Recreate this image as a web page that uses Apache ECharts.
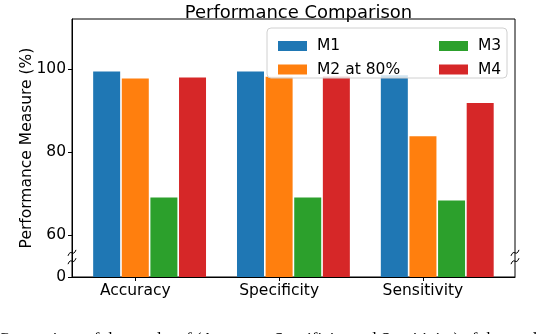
<!DOCTYPE html>
<html>
<head>
<meta charset="utf-8">
<script src="https://cdn.jsdelivr.net/npm/echarts@6/dist/echarts.min.js"></script>
<style>
html,body{margin:0;padding:0;background:#fff;}
#c{width:536px;height:334px;}
</style>
</head>
<body>
<div id="c"></div>
<script>
var categories = ['Accuracy', 'Specificity', 'Sensitivity'];
var seriesNames = ['M1', 'M2 at 80%', 'M3', 'M4'];
var m1 = [99.4, 99.4, 98.5];
var m2 = [97.7, 98.1, 83.8];
var m3 = [69.1, 69.1, 68.4];
var m4 = [97.95, 98.2, 91.8];
var yTickValues = [50, 60, 80, 100];
var yTickLabels = ['0', '60', '80', '100'];
var colors = ['#1f77b4', '#ff7f0e', '#2ca02c', '#d62728'];

var FONT = 'DejaVu Sans';
var chart = echarts.init(document.getElementById('c'), null, {renderer: 'canvas'});

function toPairs(arr) { return arr.map(function (v, i) { return [i, v]; }); }
var allValues = [m1, m2, m3, m4];

var series = [{
  name: '_pad', type: 'bar', barWidth: 27, barGap: '6%',
  data: categories.map(function (c, i) { return [i, '-']; })
}];
seriesNames.forEach(function (n, k) {
  series.push({
    name: n, type: 'bar', barWidth: 27, barGap: '6%',
    itemStyle: {color: colors[k]},
    data: toPairs(allValues[k]),
    z: 2
  });
});

var gridL = 72, gridT = 19, gridW = 443, gridH = 258;

chart.setOption({
  animation: false,
  textStyle: {fontFamily: FONT},
  title: {
    text: 'Performance Comparison',
    left: gridL + gridW / 2, top: -1, textAlign: 'center',
    textStyle: {fontFamily: FONT, fontSize: 18, fontWeight: 'normal', color: '#000'}
  },
  grid: {left: gridL, top: gridT, width: gridW, height: gridH, show: true, borderColor: '#000', borderWidth: 1, backgroundColor: 'transparent'},
  xAxis: {
    type: 'value', min: -0.44, max: 2.64,
    axisLine: {show: true, onZero: false, lineStyle: {color: '#000', width: 1}},
    axisTick: {show: true, length: 4, customValues: [0, 1, 2], lineStyle: {color: '#000'}},
    axisLabel: {customValues: [0, 1, 2], formatter: function (v) { return categories[Math.round(v)]; },
      fontFamily: FONT, fontSize: 15.5, color: '#000', margin: 6},
    splitLine: {show: false}
  },
  yAxis: {
    type: 'value', min: 50, max: 112,
    name: 'Performance Measure (%)', nameLocation: 'middle', nameGap: 37, nameMoveOverlap: false,
    nameTextStyle: {fontFamily: FONT, fontSize: 15.5, color: '#000'},
    axisLine: {show: true, onZero: false, lineStyle: {color: '#000', width: 1}},
    axisTick: {show: true, length: 4, customValues: yTickValues, lineStyle: {color: '#000'}},
    axisLabel: {customValues: yTickValues, formatter: function (v) {
      var idx = yTickValues.indexOf(v); return idx >= 0 ? yTickLabels[idx] : ''; },
      fontFamily: FONT, fontSize: 15.5, color: '#000', margin: 6},
    splitLine: {show: false}
  },
  legend: [{
    data: seriesNames.slice(0, 2), orient: 'vertical', left: 273, top: 33,
    itemWidth: 29, itemHeight: 10, itemGap: 7.5, icon: 'rect', z: 20,
    textStyle: {fontFamily: FONT, fontSize: 15.5, color: '#000', lineHeight: 15, padding: [0, 0, 0, 5]}
  }, {
    data: seriesNames.slice(2, 4), orient: 'vertical', left: 434, top: 33,
    itemWidth: 29, itemHeight: 10, itemGap: 7.5, icon: 'rect', z: 20,
    textStyle: {fontFamily: FONT, fontSize: 15.5, color: '#000', lineHeight: 15, padding: [0, 0, 0, 5]}
  }],
  series: series
});

function breakMark(x, y) {
  return {
    type: 'bezierCurve', z: 30,
    shape: {x1: x - 4, y1: y + 3, x2: x + 4, y2: y - 3, cpx1: x - 1, cpy1: y - 5, cpx2: x + 1, cpy2: y + 5},
    style: {stroke: '#000', lineWidth: 1, fill: null}
  };
}
var yA = chart.convertToPixel({yAxisIndex: 0}, 55.8);
var yB = chart.convertToPixel({yAxisIndex: 0}, 53.8);
var xL = gridL, xR = gridL + gridW;
chart.setOption({
  graphic: [
    {type: 'rect', z: 10, shape: {x: 267, y: 28, width: 240, height: 50, r: 4},
      style: {fill: 'rgba(255,255,255,0.8)', stroke: '#d0d0d0', lineWidth: 1}},
    breakMark(xL, yA), breakMark(xL, yB), breakMark(xR, yA), breakMark(xR, yB),
    {type: 'text', z: 30, left: -2, top: 331.5,
      style: {text: 'Comparison of the results of (Accuracy, Specificity and Sensitivity) of the models',
        font: '17px "Liberation Serif"', fill: '#000'}}
  ]
});
</script>
</body>
</html>
